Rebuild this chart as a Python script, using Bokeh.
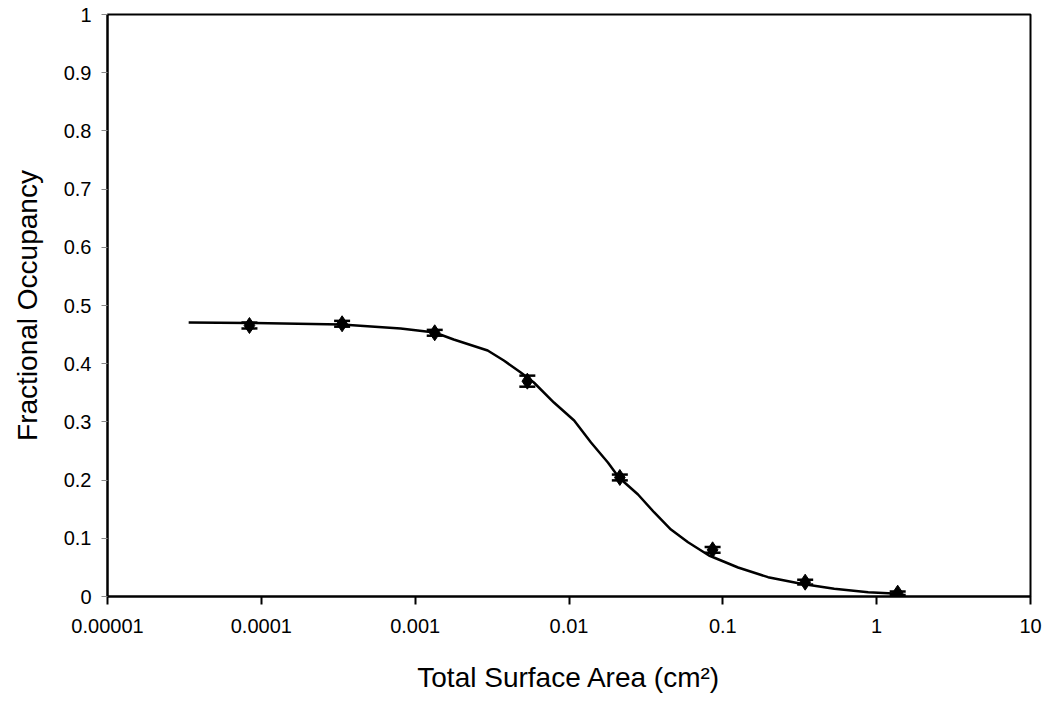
from bokeh.plotting import figure
from bokeh.models import (ColumnDataSource, Whisker, TeeHead, FixedTicker,
                          CustomJSTickFormatter, Range1d)
from bokeh.embed import file_html
from bokeh.resources import INLINE

# ---- data ----
surface_area = [0.0000837, 0.000335, 0.00134, 0.00536, 0.0214, 0.0858, 0.343, 1.37]
occupancy = [0.4656, 0.4686, 0.4531, 0.370, 0.2045, 0.0802, 0.0246, 0.0057]
occ_err = [0.005, 0.005, 0.005, 0.0095, 0.005, 0.005, 0.004, 0.003]

fit_x = [3.37e-5, 8.27e-5, 3.33e-4, 8.05e-4, 1.34e-3, 1.78e-3, 2.96e-3, 3.77e-3,
         4.86e-3, 5.91e-3, 7.98e-3, 1.08e-2, 1.39e-2, 1.79e-2, 2.11e-2, 2.81e-2,
         3.57e-2, 4.60e-2, 5.94e-2, 8.13e-2, 0.1256, 0.1968, 0.3227, 0.5297,
         0.881, 1.380]
fit_y = [0.4708, 0.4699, 0.4674, 0.4605, 0.4536, 0.4416, 0.4227, 0.4055,
         0.3849, 0.3677, 0.3333, 0.3024, 0.2646, 0.2302, 0.2045, 0.1753,
         0.1448, 0.1151, 0.0933, 0.0704, 0.0498, 0.0332, 0.0218, 0.0132,
         0.0074, 0.0046]

x_ticks = [0.00001, 0.0001, 0.001, 0.01, 0.1, 1, 10]
x_tick_labels = ["0.00001", "0.0001", "0.001", "0.01", "0.1", "1", "10"]
y_ticks = [0, 0.1, 0.2, 0.3, 0.4, 0.5, 0.6, 0.7, 0.8, 0.9, 1]
y_tick_labels = ["0", "0.1", "0.2", "0.3", "0.4", "0.5", "0.6", "0.7", "0.8", "0.9", "1"]

FONT = "Liberation Sans"

p = figure(width=1042, height=697, x_axis_type="log",
           x_range=Range1d(x_ticks[0], x_ticks[-1]),
           y_range=Range1d(y_ticks[0], y_ticks[-1]),
           output_backend="svg", toolbar_location=None,
           min_border_left=107, min_border_right=12,
           min_border_top=14, min_border_bottom=101)

p.xgrid.visible = False
p.ygrid.visible = False
p.outline_line_color = "black"
p.outline_line_width = 2
p.background_fill_color = "white"
p.border_fill_color = "white"

# axes
xa = p.xaxis[0]
xa.ticker = FixedTicker(ticks=x_ticks)
xa.formatter = CustomJSTickFormatter(args=dict(labels=x_tick_labels), code="""
    const i = Math.round(Math.log10(tick)) + 5;
    return labels[i];
""")
xa.axis_label = "Total Surface Area (cm²)"
xa.axis_label_text_font = FONT
xa.axis_label_text_font_size = "28px"
xa.axis_label_text_font_style = "normal"
xa.axis_label_text_color = "black"
xa.axis_label_standoff = 26
xa.major_label_text_font = FONT
xa.major_label_text_font_size = "20px"
xa.major_label_text_color = "black"
xa.major_label_standoff = 14
xa.axis_line_width = 2
xa.axis_line_color = "black"
xa.major_tick_line_color = "black"
xa.major_tick_line_width = 2
xa.major_tick_out = 8
xa.major_tick_in = 0
xa.minor_tick_line_color = None

ya = p.yaxis[0]
ya.ticker = FixedTicker(ticks=y_ticks)
ya.formatter = CustomJSTickFormatter(args=dict(labels=y_tick_labels), code="""
    return labels[Math.round(tick * 10)];
""")
ya.axis_label = "Fractional Occupancy"
ya.axis_label_text_font = FONT
ya.axis_label_text_font_size = "28px"
ya.axis_label_text_font_style = "normal"
ya.axis_label_text_color = "black"
ya.axis_label_standoff = 18
ya.major_label_text_font = FONT
ya.major_label_text_font_size = "20px"
ya.major_label_text_color = "black"
ya.major_label_standoff = 10
ya.axis_line_width = 2
ya.axis_line_color = "black"
ya.major_tick_line_color = "#888888"
ya.major_tick_line_width = 1
ya.major_tick_out = 6
ya.major_tick_in = 0
ya.minor_tick_line_color = None

# fitted curve
p.line(fit_x, fit_y, line_color="black", line_width=2.5)

# data with error bars
src = ColumnDataSource(dict(
    x=surface_area, y=occupancy,
    upper=[o + e for o, e in zip(occupancy, occ_err)],
    lower=[o - e for o, e in zip(occupancy, occ_err)],
))
w = Whisker(source=src, base="x", upper="upper", lower="lower",
            line_color="black", line_width=2,
            upper_head=TeeHead(size=16, line_color="black", line_width=2.5),
            lower_head=TeeHead(size=16, line_color="black", line_width=2.5))
p.add_layout(w)
p.scatter("x", "y", source=src, marker="diamond", size=16,
          fill_color="black", line_color="black")

open("out.html", "w").write(file_html(p, INLINE))
